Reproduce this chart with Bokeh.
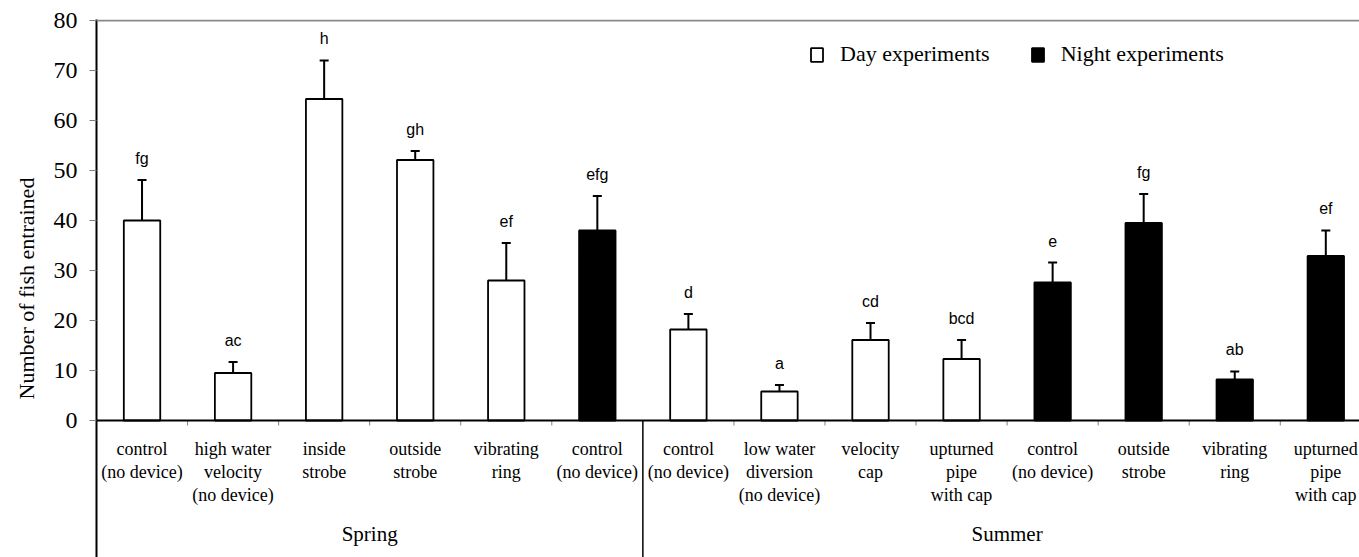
from bokeh.plotting import figure
from bokeh.models import (Range1d, FixedTicker, Span, ColumnDataSource, Whisker,
                          TeeHead, Legend, LegendItem)
from bokeh.core.properties import value
from bokeh.embed import file_html
from bokeh.resources import INLINE

# ---------------- data ----------------
categories = ["control\n(no device)", "high water\nvelocity\n(no device)", "inside\nstrobe",
              "outside\nstrobe", "vibrating\nring", "control\n(no device)",
              "control\n(no device)", "low water\ndiversion\n(no device)", "velocity\ncap",
              "upturned\npipe\nwith cap", "control\n(no device)", "outside\nstrobe",
              "vibrating\nring", "upturned\npipe\nwith cap"]
season = ["Spring"] * 6 + ["Summer"] * 8
period = ["Day"] * 5 + ["Night"] + ["Day"] * 4 + ["Night"] * 4
means = [40.0, 9.5, 64.3, 52.1, 28.0, 38.0, 18.2, 5.8, 16.1, 12.3, 27.6, 39.5, 8.2, 32.9]
se = [8.1, 2.2, 7.7, 1.8, 7.5, 6.9, 3.1, 1.3, 3.4, 3.8, 4.0, 5.8, 1.6, 5.1]
letters = ["fg", "ac", "h", "gh", "ef", "efg", "d", "a", "cd", "bcd", "e", "fg", "ab", "ef"]
legend_labels = {"Day": "Day experiments", "Night": "Night experiments"}
y_ticks = list(range(0, 81, 10))

# ---------------- derived ----------------
n = len(categories)
xc = [i + 0.5 for i in range(n)]
upper = [m + s for m, s in zip(means, se)]
seasons = []
for s in season:
    if s not in seasons:
        seasons.append(s)
season_x = [sum(x for x, s2 in zip(xc, season) if s2 == s) / season.count(s) for s in seasons]
season_bounds = [i for i in range(1, n) if season[i] != season[i - 1]]
cat_bounds = [i for i in range(1, n) if i not in season_bounds]

SERIF = value("Liberation Serif")
SANS = value("Liberation Sans")

p = figure(width=1359, height=557, output_backend="svg", toolbar_location=None,
           x_range=Range1d(0, 13.87), y_range=Range1d(-27.4, 80.2),
           x_axis_location=None, min_border_left=96, min_border_right=0,
           min_border_top=19, min_border_bottom=0)
p.outline_line_color = None
p.xgrid.visible = False
p.ygrid.visible = False
p.background_fill_color = "white"
p.border_fill_color = "white"

def subset(key):
    idx = [i for i in range(n) if period[i] == key]
    return ColumnDataSource(dict(x=[xc[i] for i in idx], top=[means[i] for i in idx]))

day = p.vbar(x="x", top="top", bottom=0, width=0.4, source=subset("Day"),
             fill_color="white", line_color="black", line_width=1.8)
night = p.vbar(x="x", top="top", bottom=0, width=0.4, source=subset("Night"),
               fill_color="black", line_color="black", line_width=1.8)

err_src = ColumnDataSource(dict(x=xc, lower=means, upper=upper, letters=letters))
p.add_layout(Whisker(source=err_src, base="x", lower="lower", upper="upper",
                     line_color="black", line_width=2, lower_head=None,
                     upper_head=TeeHead(size=9, line_width=2, line_color="black")))

p.text(x="x", y="upper", text="letters", source=err_src, y_offset=-22,
       text_align="center", text_baseline="middle", text_font=SANS,
       text_font_size="16px", text_color="black")

# top border and x baseline
p.add_layout(Span(location=80, dimension="width", line_color="#8a8a8a", line_width=2))
p.add_layout(Span(location=0, dimension="width", line_color="black", line_width=2))

# small category ticks and season separators
p.segment(x0=cat_bounds, y0=[0] * len(cat_bounds), x1=cat_bounds, y1=[-1] * len(cat_bounds),
          line_color="#808080", line_width=1)
p.segment(x0=season_bounds, y0=[0] * len(season_bounds), x1=season_bounds,
          y1=[p.y_range.start] * len(season_bounds), line_color="black", line_width=1.5)

# category labels
p.text(x=xc, y=[0] * n, text=categories, y_offset=18, text_align="center",
       text_baseline="top", text_font=SERIF, text_font_size="18px",
       text_line_height=1.17, text_color="black")
# season labels
p.text(x=season_x, y=[0] * len(seasons), text=seasons, y_offset=113, text_align="center",
       text_baseline="middle", text_font=SERIF, text_font_size="21px", text_color="black")

# y axis
ya = p.yaxis[0]
ya.ticker = FixedTicker(ticks=y_ticks, minor_ticks=[])
ya.axis_label = "Number of fish entrained"
ya.axis_label_text_font = "Liberation Serif"
ya.axis_label_text_font_size = "22px"
ya.axis_label_text_font_style = "normal"
ya.axis_label_text_color = "black"
ya.axis_label_standoff = 12
ya.major_label_text_font = "Liberation Serif"
ya.major_label_text_font_size = "24px"
ya.major_label_text_color = "black"
ya.major_label_standoff = 12
ya.major_tick_in = 0
ya.major_tick_out = 7
ya.major_tick_line_color = "#808080"
ya.minor_tick_line_color = None
ya.axis_line_color = "black"
ya.axis_line_width = 2

legend = Legend(items=[LegendItem(label=legend_labels["Day"], renderers=[day]),
                       LegendItem(label=legend_labels["Night"], renderers=[night])],
                location=(713, 490), orientation="horizontal",
                glyph_width=15, glyph_height=17, label_standoff=16, spacing=40,
                padding=0, margin=0, border_line_color=None, background_fill_alpha=0,
                label_text_font="Liberation Serif", label_text_font_size="22px",
                label_text_color="black")
p.add_layout(legend, "center")

open("out.html", "w").write(file_html(p, INLINE))
